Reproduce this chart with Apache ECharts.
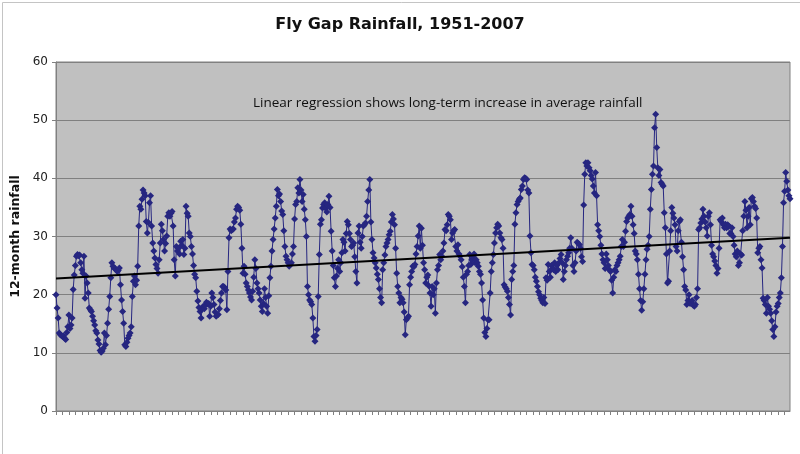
<!DOCTYPE html>
<html>
<head>
<meta charset="utf-8">
<script src="https://cdn.jsdelivr.net/npm/echarts@6/dist/echarts.min.js"></script>
<style>
html,body{margin:0;padding:0;background:#fff;}
#chart{width:800px;height:454px;}
</style>
</head>
<body>
<div id="chart"></div>
<script>
// Chart text
var chartTitle = 'Fly Gap Rainfall, 1951-2007';
var yAxisName = '12-month rainfall';
var annotation = 'Linear regression shows long-term increase in average rainfall';

// Y axis ticks
var yTicks = [0, 10, 20, 30, 40, 50, 60];

// Years covered (monthly categories)
var years = [1951, 1952, 1953, 1954, 1955, 1956, 1957, 1958, 1959, 1960, 1961, 1962, 1963, 1964, 1965, 1966, 1967, 1968, 1969, 1970, 1971, 1972, 1973, 1974, 1975, 1976, 1977, 1978, 1979, 1980, 1981, 1982, 1983, 1984, 1985, 1986, 1987, 1988, 1989, 1990, 1991, 1992, 1993, 1994, 1995, 1996, 1997, 1998, 1999, 2000, 2001, 2002, 2003, 2004, 2005, 2006, 2007];
var months = ['01','02','03','04','05','06','07','08','09','10','11','12'];

// 12-month rainfall, one value per month
var rainfall = [
20.0,17.7,16.0,13.4,13.1,13.0,12.8,12.9,12.5,12.3,
13.5,14.5,16.5,14.2,14.8,16.0,20.9,23.4,25.0,26.6,
26.9,26.7,26.8,25.5,24.3,23.7,26.6,19.4,23.2,22.0,
20.3,17.7,17.4,17.1,16.3,15.5,14.8,13.8,13.4,12.2,
11.5,10.4,10.1,10.3,10.8,13.4,11.4,13.0,15.1,17.5,
19.7,22.9,25.5,24.9,24.6,24.5,24.3,24.0,24.2,24.6,
21.7,19.1,17.1,15.1,11.4,11.1,11.8,12.5,13.0,13.4,
14.5,19.7,22.3,23.2,21.7,22.5,24.9,31.8,35.2,34.7,
36.4,38.0,37.5,37.0,32.6,30.6,32.4,35.8,37.0,31.8,
28.9,27.5,26.3,25.2,24.5,23.7,26.0,28.9,32.1,31.0,
29.5,27.5,28.8,30.1,33.5,34.1,
33.5,34.0,34.3,31.8,26.0,23.2,28.3,27.5,28.0,27.0,
29.2,28.5,29.5,26.9,28.0,35.2,34.0,33.5,30.6,30.0,
28.3,27.0,25.0,23.5,22.9,20.6,18.9,17.8,17.1,16.0,
17.5,18.0,17.6,18.2,18.7,18.4,18.5,16.3,18.0,20.3,
19.5,18.3,17.0,16.3,16.5,16.6,17.6,19.0,20.3,21.4,
21.4,21.2,20.8,17.4,24.0,29.8,31.3,31.0,31.2,31.3,
32.5,33.2,34.7,35.2,35.0,34.5,32.1,28.0,23.7,24.9,
23.5,22.0,21.4,20.8,20.3,19.6,19.1,20.6,23.0,26.0,
24.5,22.0,21.0,20.3,19.1,18.0,17.1,18.5,21.0,19.5,
18.0,16.8,19.8,22.9,24.9,27.5,29.5,31.3,33.2,35.2,
38.1,37.0,37.3,36.0,34.4,33.8,31.0,28.3,26.6,26.0,
25.5,24.9,25.2,25.5,27.0,28.3,33.0,
35.5,36.0,38.4,37.5,39.8,38.0,36.0,37.2,34.7,32.9,
30.0,21.4,20.0,19.1,18.8,18.3,16.0,12.8,12.0,13.0,
14.0,19.7,26.9,32.1,32.9,34.9,35.5,35.8,34.8,34.2,
35.5,36.9,35.0,30.9,27.5,25.0,22.9,21.4,23.2,24.5,
26.0,24.0,25.5,27.2,29.5,29.0,27.5,30.5,32.6,32.0,
30.5,29.5,28.3,28.5,28.9,26.5,24.0,22.0,30.6,31.8,
29.0,28.0,30.0,31.8,32.0,32.3,33.5,36.0,38.0,39.8,
32.5,29.5,27.2,26.3,25.5,24.6,23.5,22.6,21.0,19.5,
18.6,24.3,25.5,26.8,28.3,28.9,29.5,30.3,30.9,32.5,
33.8,33.0,32.0,28.0,23.7,21.4,20.3,18.6,19.5,19.2,
18.6,17.0,13.1,15.7,16.0,16.3,21.7,23.0,24.0,24.9,
24.8,25.2,27.0,28.3,30.1,31.8,
28.0,31.4,28.5,25.5,24.3,22.0,23.0,23.4,21.5,20.3,
18.0,21.4,20.0,21.0,16.8,22.0,24.3,25.0,26.9,26.0,
26.6,27.5,28.9,31.2,31.0,32.0,33.8,33.5,32.9,29.5,
30.6,31.0,31.2,28.3,27.5,28.6,27.0,26.6,26.0,24.8,
23.0,21.4,18.6,23.5,24.0,25.0,26.9,25.2,26.0,26.5,
27.0,25.5,26.0,25.5,24.9,24.0,23.5,22.0,19.1,16.0,
13.5,12.8,14.2,15.7,15.7,20.3,24.0,25.5,26.9,28.9,
30.6,31.5,32.1,31.8,30.6,29.8,29.5,28.0,21.7,21.3,
21.0,20.6,19.5,18.3,16.5,22.6,24.0,25.0,32.1,34.1,
35.5,36.0,36.4,36.6,38.1,38.7,39.8,40.1,40.0,39.8,
38.0,37.5,30.1,27.2,25.2,25.0,24.3,23.0,22.3,21.4,
20.5,20.0,19.4,19.0,18.6,19.5,
18.5,22.9,22.5,25.2,24.0,23.0,25.0,24.5,24.3,25.5,
24.0,25.0,24.3,25.5,26.2,26.9,25.5,22.6,24.0,25.0,
26.0,26.6,27.2,28.0,29.8,28.0,25.0,24.0,25.5,27.5,
29.0,28.8,28.6,28.0,26.5,25.7,35.4,40.7,42.7,42.1,
42.7,41.8,41.3,40.5,39.9,38.7,37.5,41.0,37.0,32.0,
31.0,30.0,28.5,27.0,26.0,25.5,24.5,27.0,26.0,25.0,
24.3,24.0,22.5,20.3,23.0,24.3,24.0,25.0,25.5,26.0,
26.6,28.3,29.5,28.3,29.0,30.9,32.6,33.2,33.5,33.8,
35.2,33.5,32.0,30.5,27.5,27.0,26.0,23.5,21.0,19.0,
17.3,18.8,21.0,23.5,26.0,27.8,28.5,30.0,34.7,38.1,
40.7,42.1,48.7,51.0,45.3,41.8,40.5,41.5,39.3,39.0,
38.7,34.1,31.5,27.0,22.0,
22.3,27.5,31.0,35.0,34.0,33.2,32.0,28.3,27.5,31.0,
32.6,32.9,29.0,26.5,24.3,21.4,20.8,18.3,19.0,20.0,
18.5,18.8,19.0,18.2,18.0,18.3,19.5,21.0,31.2,31.5,
32.3,33.0,34.7,33.5,32.5,31.5,30.1,33.5,34.1,32.0,
28.5,27.0,26.5,25.8,25.0,23.7,24.5,28.0,32.9,32.6,
33.2,32.0,31.5,32.1,31.5,32.0,31.8,30.5,30.5,31.5,
30.0,28.5,27.0,26.5,27.5,25.0,25.5,27.0,26.8,31.0,
33.5,36.0,34.5,31.5,33.5,35.0,32.0,36.5,36.7,36.0,
35.2,34.8,33.2,27.2,28.0,28.3,26.0,24.6,19.4,19.0,
18.3,16.8,19.5,18.0,17.5,16.8,15.5,14.0,12.8,14.5,
17.0,18.0,18.5,19.5,20.3,22.9,28.3,35.8,37.8,41.0,
39.5,38.0,37.0,36.5
];

// Linear regression trend: value at first and last month
var trendValues = [22.8, 29.8];

// Build the category list (one per month)
var categories = [];
years.forEach(function (y) { months.forEach(function (m) { categories.push(y + '-' + m); }); });
categories = categories.slice(0, rainfall.length);

var trendData = [
  [categories[0], trendValues[0]],
  [categories[categories.length - 1], trendValues[1]]
];

var chart = echarts.init(document.getElementById('chart'), null, {renderer: 'canvas'});
chart.setOption({
  animation: false,
  backgroundColor: '#ffffff',
  title: {
    text: chartTitle,
    left: 'center',
    top: 12,
    textStyle: {fontFamily: 'DejaVu Sans', fontWeight: 'bold', fontSize: 16, color: '#111'}
  },
  graphic: [
    {type: 'rect', left: 0, top: 0, shape: {width: 799, height: 453}, style: {fill: 'none', stroke: '#c4c4c4', lineWidth: 1}, silent: true, z: -1},
    {type: 'text', left: 253, top: 96, style: {text: annotation, fontFamily: 'Open Sans', fontSize: 13.5, fill: '#111'}, z: 100}
  ],
  grid: {
    left: 56, right: 10, top: 62, bottom: 43,
    show: true, backgroundColor: '#c0c0c0', borderColor: '#808080', borderWidth: 1
  },
  xAxis: {
    type: 'category',
    data: categories,
    boundaryGap: false,
    axisLine: {show: true, lineStyle: {color: '#808080', width: 1}},
    axisTick: {show: true, interval: 5, length: 4, lineStyle: {color: '#808080'}},
    axisLabel: {show: false},
    splitLine: {show: false}
  },
  yAxis: {
    type: 'value',
    min: yTicks[0], max: yTicks[yTicks.length - 1], interval: 10,
    name: yAxisName,
    nameLocation: 'middle',
    nameGap: 32,
    nameTextStyle: {fontFamily: 'DejaVu Sans', fontWeight: 'bold', fontSize: 12.5, color: '#111'},
    axisLine: {show: true, lineStyle: {color: '#808080'}},
    axisTick: {show: true, length: 4, lineStyle: {color: '#808080'}},
    axisLabel: {fontFamily: 'DejaVu Sans', fontSize: 12, color: '#222', margin: 8},
    splitLine: {show: true, lineStyle: {color: '#808080', width: 1}}
  },
  series: [
    {
      name: '12-month rainfall',
      type: 'line',
      data: rainfall,
      symbol: 'diamond',
      symbolSize: 7,
      showAllSymbol: true,
      sampling: null,
      itemStyle: {color: '#262680'},
      lineStyle: {color: '#262680', width: 1},
      z: 2
    },
    {
      name: 'Linear trend',
      type: 'line',
      data: trendData,
      symbol: 'none',
      lineStyle: {color: '#000000', width: 2},
      z: 3
    }
  ]
});
</script>
</body>
</html>
